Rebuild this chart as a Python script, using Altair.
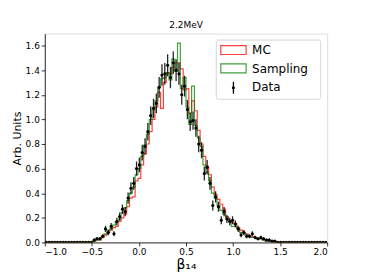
import altair as alt
import pandas as pd

FONT = "DejaVu Sans"

# Histogram binning: 100 bins from -1.0 to 2.0 (width 0.03); lists below start at bin 16
BIN_LO = -1.0
BIN_W = 0.03
N_BINS = 100
FIRST = 16

data_vals = [0.00, 0.02, 0.03, 0.03, 0.05, 0.11, 0.08, 0.13, 0.07, 0.17,
             0.21, 0.27, 0.25, 0.36, 0.44, 0.48, 0.60, 0.63, 0.73, 0.78,
             0.90, 1.03, 1.09, 1.13, 1.26, 1.36, 1.37, 1.44, 1.34, 1.46,
             1.40, 1.37, 1.20, 1.27, 1.08, 0.98, 0.99, 0.93, 0.80, 0.75,
             0.56, 0.61, 0.48, 0.30, 0.37, 0.29, 0.18, 0.25, 0.19, 0.17,
             0.18, 0.15, 0.11, 0.06, 0.08, 0.05, 0.05, 0.07, 0.04, 0.03,
             0.04, 0.03, 0.02, 0.02, 0.01, 0.01, 0.00, 0.00, 0.00]
data_errs = [0.000, 0.012, 0.014, 0.014, 0.017, 0.025, 0.021, 0.027, 0.020, 0.031,
             0.034, 0.039, 0.037, 0.045, 0.050, 0.052, 0.058, 0.060, 0.064, 0.066,
             0.071, 0.076, 0.078, 0.080, 0.084, 0.087, 0.088, 0.090, 0.087, 0.091,
             0.089, 0.088, 0.082, 0.085, 0.078, 0.074, 0.075, 0.072, 0.067, 0.065,
             0.056, 0.059, 0.052, 0.041, 0.046, 0.040, 0.032, 0.038, 0.033, 0.031,
             0.032, 0.029, 0.025, 0.018, 0.021, 0.017, 0.017, 0.020, 0.015, 0.013,
             0.015, 0.013, 0.011, 0.011, 0.008, 0.008, 0.000, 0.000, 0.000]
mc_vals = [0.00, 0.01, 0.03, 0.02, 0.04, 0.06, 0.08, 0.10, 0.12, 0.13,
           0.17, 0.20, 0.23, 0.29, 0.36, 0.37, 0.50, 0.52, 0.63, 0.72,
           0.80, 0.90, 1.00, 1.10, 1.22, 1.09, 1.30, 1.38, 1.37, 1.42,
           1.46, 1.46, 1.41, 1.24, 1.25, 1.05, 1.15, 1.07, 0.91, 0.80,
           0.70, 0.62, 0.55, 0.45, 0.39, 0.35, 0.31, 0.27, 0.21, 0.18,
           0.16, 0.15, 0.12, 0.10, 0.08, 0.07, 0.05, 0.05, 0.04, 0.03,
           0.03, 0.02, 0.02, 0.01, 0.01, 0.00, 0.00, 0.00, 0.00]
samp_vals = [0.00, 0.01, 0.02, 0.03, 0.05, 0.07, 0.10, 0.11, 0.14, 0.17,
             0.19, 0.24, 0.28, 0.34, 0.40, 0.45, 0.55, 0.60, 0.70, 0.79,
             0.88, 1.00, 1.08, 1.15, 1.26, 1.33, 1.34, 1.38, 1.32, 1.49,
             1.39, 1.62, 1.25, 1.34, 1.10, 0.96, 1.27, 0.95, 0.85, 0.78,
             0.63, 0.57, 0.50, 0.40, 0.36, 0.30, 0.26, 0.23, 0.20, 0.17,
             0.13, 0.13, 0.11, 0.08, 0.08, 0.06, 0.05, 0.04, 0.04, 0.03,
             0.03, 0.02, 0.01, 0.01, 0.01, 0.00, 0.00, 0.00, 0.00]

x_ticks = [-1.0, -0.5, 0.0, 0.5, 1.0, 1.5, 2.0]
y_ticks = [0.0, 0.2, 0.4, 0.6, 0.8, 1.0, 1.2, 1.4, 1.6]


def pad(vals):
    out = [0.0] * N_BINS
    for k, v in enumerate(vals):
        out[FIRST + k] = v
    return out


edges = [round(BIN_LO + i * BIN_W, 4) for i in range(N_BINS + 1)]
centers = [round(BIN_LO + (i + 0.5) * BIN_W, 4) for i in range(N_BINS)]


def step_frame(vals):
    v = pad(vals)
    rows = [(0, edges[0], 0.0)]
    k = 1
    for i in range(N_BINS):
        rows.append((k, edges[i], v[i])); k += 1
        rows.append((k, edges[i + 1], v[i])); k += 1
    rows.append((k, edges[-1], 0.0))
    return pd.DataFrame(rows, columns=["order", "x", "y"])


mc_df = step_frame(mc_vals)
samp_df = step_frame(samp_vals)
pts_df = pd.DataFrame({"x": centers, "y": pad(data_vals), "e": pad(data_errs)})
pts_df["lo"] = pts_df["y"] - pts_df["e"]
pts_df["hi"] = pts_df["y"] + pts_df["e"]
err_df = pts_df[pts_df["e"] > 0]

xs = alt.Scale(domain=[-1.0, 2.0], nice=False, zero=False)
ys = alt.Scale(domain=[0.0, 1.697], nice=False)

x_axis = alt.Axis(values=x_ticks, format=".1f", title="β₁₄", grid=False,
                  labelFontSize=9, titleFontSize=14, titleFontWeight="normal",
                  tickSize=3.5, labelPadding=2, titlePadding=1, labelOverlap=False,
                  labelFont=FONT, titleFont=FONT, domainColor="black",
                  tickColor="black", labelColor="black", titleColor="black",
                  domainWidth=0.8, tickWidth=0.8)
y_axis = alt.Axis(values=y_ticks, format=".1f", title="Arb. Units", grid=False,
                  labelFontSize=9, titleFontSize=11, titleFontWeight="normal",
                  tickSize=3.5, labelPadding=2, titlePadding=3, labelOverlap=False,
                  labelFont=FONT, titleFont=FONT, domainColor="black",
                  tickColor="black", labelColor="black", titleColor="black",
                  domainWidth=0.8, tickWidth=0.8)

mc = alt.Chart(mc_df).mark_line(color="red", opacity=0.75, strokeWidth=1.2, clip=True).encode(
    x=alt.X("x:Q", scale=xs, axis=x_axis),
    y=alt.Y("y:Q", scale=ys, axis=y_axis),
    order="order:Q",
)
samp = alt.Chart(samp_df).mark_line(color="green", opacity=0.75, strokeWidth=1.2, clip=True).encode(
    x=alt.X("x:Q", scale=xs, axis=x_axis),
    y=alt.Y("y:Q", scale=ys, axis=y_axis),
    order="order:Q",
)
errs = alt.Chart(err_df).mark_rule(color="black", strokeWidth=1.3, opacity=0.85, clip=True).encode(
    x=alt.X("x:Q", scale=xs, axis=x_axis),
    y=alt.Y("lo:Q", scale=ys, axis=y_axis),
    y2="hi:Q",
)
pts = alt.Chart(pts_df).mark_circle(color="black", size=10, opacity=1, clip=True).encode(
    x=alt.X("x:Q", scale=xs, axis=x_axis),
    y=alt.Y("y:Q", scale=ys, axis=y_axis),
)

# legend (decoration)
one = pd.DataFrame({"k": [0]})
leg_box = alt.Chart(one).mark_rect(fill="white", fillOpacity=0.85, stroke="#cccccc",
                                   strokeWidth=0.8, cornerRadius=2).encode(
    x=alt.value(172.5), x2=alt.value(277.5), y=alt.value(6.5), y2=alt.value(66))
leg_mc = alt.Chart(one).mark_rect(fill="white", fillOpacity=0, stroke="red", strokeOpacity=0.75,
                                  strokeWidth=1.2).encode(
    x=alt.value(177), x2=alt.value(202.5), y=alt.value(12), y2=alt.value(21))
leg_samp = alt.Chart(one).mark_rect(fill="white", fillOpacity=0, stroke="green", strokeOpacity=0.75,
                                    strokeWidth=1.2).encode(
    x=alt.value(177), x2=alt.value(202.5), y=alt.value(30.5), y2=alt.value(39.5))
leg_err = alt.Chart(one).mark_rule(color="black", strokeWidth=1.3).encode(
    x=alt.value(189.7), y=alt.value(48.5), y2=alt.value(60.5))
leg_dot = alt.Chart(one).mark_circle(color="black", size=10, opacity=1).encode(
    x=alt.value(189.7), y=alt.value(54.5))


def leg_label(text, yy):
    return alt.Chart(one).mark_text(align="left", baseline="middle", fontSize=12,
                                    font=FONT, color="black", text=text).encode(
        x=alt.value(208.5), y=alt.value(yy))


leg_t1 = leg_label("MC", 16.5)
leg_t2 = leg_label("Sampling", 35.3)
leg_t3 = leg_label("Data", 54)

chart = alt.layer(mc, samp, errs, pts, leg_box, leg_mc, leg_samp, leg_err, leg_dot,
                  leg_t1, leg_t2, leg_t3).properties(
    width=284, height=210,
    title=alt.TitleParams("2.2MeV", fontSize=9, fontWeight="normal", font=FONT,
                          offset=4, color="black"),
    autosize="none",
    padding={"left": 37, "top": 25, "right": 30, "bottom": 30},
).configure_view(stroke="black", strokeWidth=0.8).configure(background="white")

chart.save("out.html", embed_options={"renderer": "svg", "actions": False})
